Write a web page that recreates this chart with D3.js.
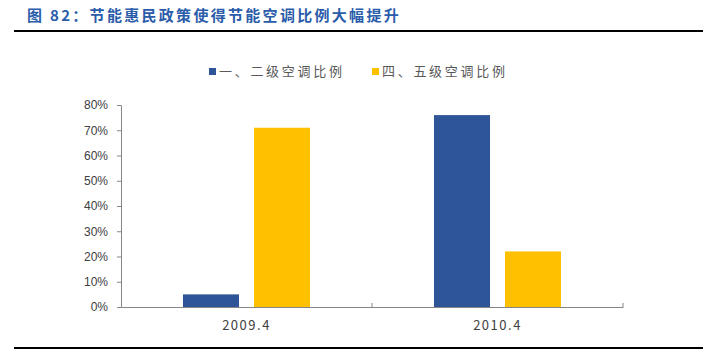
<!DOCTYPE html>
<html>
<head>
<meta charset="utf-8">
<script src="https://cdn.jsdelivr.net/npm/d3@7"></script>
<style>
  body { margin: 0; background: #fff; }
  svg { display: block; }
</style>
</head>
<body>
<div id="chart"></div>
<script>
// data
const categories = ["2009.4", "2010.4"];
const seriesNames = ["一、二级空调比例", "四、五级空调比例"];
const level12 = [0.05, 0.76];
const level45 = [0.71, 0.22];
const yTicks = [0, 0.1, 0.2, 0.3, 0.4, 0.5, 0.6, 0.7, 0.8];

const colors = ["#2E5597", "#FFC000"];

const W = 712, H = 353;
const svg = d3.select("#chart").append("svg")
  .attr("width", W)
  .attr("height", H);

// title + rules
svg.append("text")
  .attr("x", 27)
  .attr("y", 21)
  .attr("font-family", "'Noto Sans CJK SC', sans-serif")
  .attr("font-weight", "bold")
  .attr("font-size", 15)
  .attr("letter-spacing", 2.3)
  .attr("fill", "#2A5CAA")
  .text("图 82：节能惠民政策使得节能空调比例大幅提升");

svg.append("rect").attr("x", 14).attr("y", 30).attr("width", 689).attr("height", 2).attr("fill", "#000");
svg.append("rect").attr("x", 14).attr("y", 347).attr("width", 689).attr("height", 2).attr("fill", "#000");

// scales
const x0 = d3.scaleBand()
  .domain(categories)
  .range([121, 623]);

const x1 = d3.scaleBand()
  .domain(seriesNames)
  .range([0, x0.bandwidth()])
  .paddingInner(0.211)
  .paddingOuter(0.873);

const y = d3.scaleLinear()
  .domain([0, 0.8])
  .range([307, 105]);

// bars
const rows = categories.map((c, i) => ({cat: c, vals: [level12[i], level45[i]]}));
const groups = svg.selectAll(".grp")
  .data(rows)
  .enter()
  .append("g")
  .attr("class", "grp")
  .attr("transform", d => `translate(${x0(d.cat)},0)`);

groups.selectAll("rect")
  .data(d => d.vals.map((v, j) => ({name: seriesNames[j], v: v, j: j})))
  .enter()
  .append("rect")
  .attr("x", d => x1(d.name))
  .attr("y", d => y(d.v))
  .attr("width", x1.bandwidth())
  .attr("height", d => y(0) - y(d.v))
  .attr("fill", d => colors[d.j]);

// y axis
const yAxis = svg.append("g")
  .attr("transform", "translate(121,0)")
  .call(d3.axisLeft(y).tickValues(yTicks).tickFormat(d3.format(".0%")).tickSize(4).tickPadding(9));
yAxis.selectAll("line, path").attr("stroke", "#868686");
yAxis.selectAll("text")
  .attr("font-family", "'Liberation Sans', Arial, sans-serif")
  .attr("font-size", 12)
  .attr("fill", "#404040");

// x axis: ticks point up into the plot
const xAxis = svg.append("g")
  .attr("transform", "translate(0,307)")
  .call(d3.axisBottom(x0).tickSize(0).tickPadding(14));
xAxis.select(".domain").attr("stroke", "#868686");
xAxis.selectAll("text")
  .attr("font-family", "'Noto Sans CJK SC', sans-serif")
  .attr("font-size", 13)
  .attr("letter-spacing", 1.5)
  .attr("fill", "#404040");
xAxis.selectAll(".bnd")
  .data(categories)
  .enter()
  .append("line")
  .attr("x1", d => x0(d) + x0.bandwidth())
  .attr("x2", d => x0(d) + x0.bandwidth())
  .attr("y1", 0)
  .attr("y2", -4)
  .attr("stroke", "#868686");

// legend
const legendX = [209, 372];
const legend = svg.selectAll(".leg")
  .data(seriesNames)
  .enter()
  .append("g")
  .attr("class", "leg")
  .attr("transform", (d, i) => `translate(${legendX[i]},68)`);
legend.append("rect")
  .attr("width", 7)
  .attr("height", 7)
  .attr("fill", (d, i) => colors[i]);
legend.append("text")
  .attr("x", 10)
  .attr("y", 8)
  .attr("font-family", "'Noto Sans CJK SC', sans-serif")
  .attr("font-size", 13)
  .attr("letter-spacing", 2.7)
  .attr("fill", "#595959")
  .text(d => d);
</script>
</body>
</html>
